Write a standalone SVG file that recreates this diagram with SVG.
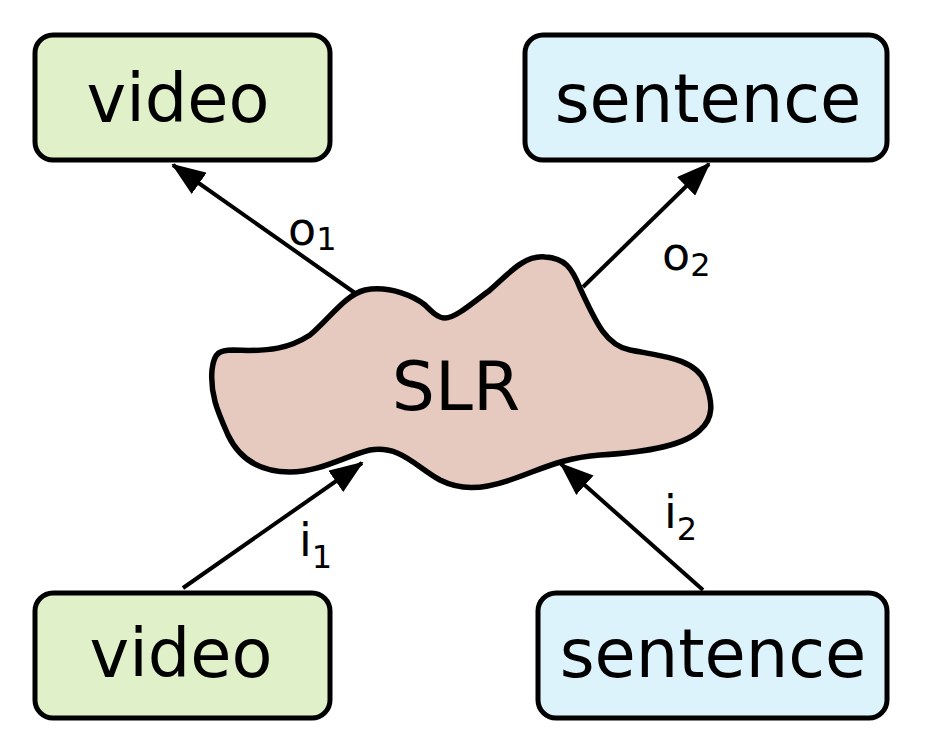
<svg xmlns="http://www.w3.org/2000/svg" width="926" height="750" viewBox="0 0 926 750">
<style>
.box{stroke:#000;stroke-width:5}
.green{fill:#e0f1c9}
.blue{fill:#dcf3fc}
.t{font-family:"DejaVu Sans",sans-serif;fill:#000}
.big{font-size:67px}
.lab{font-size:46px}
.sub{font-size:32px}
.edge{stroke:#000;stroke-width:4;fill:none;marker-end:url(#ah)}
</style>
<defs>
<marker id="ah" viewBox="0 0 34 26" refX="32" refY="13" markerWidth="34" markerHeight="26" markerUnits="userSpaceOnUse" orient="auto">
<path d="M0,0 L34,13 L0,26 Z" fill="#000"/>
</marker>
</defs>
<g id="connectors">
<line class="edge" x1="355" y1="293" x2="173" y2="165"/>
<line class="edge" x1="583" y1="287" x2="709" y2="164"/>
<line class="edge" x1="183" y1="588" x2="362" y2="463"/>
<line class="edge" x1="703" y1="590" x2="561" y2="464"/>
<text class="t lab" x="288" y="245">o<tspan class="sub" dy="5">1</tspan></text>
<text class="t lab" x="662" y="270">o<tspan class="sub" dy="6">2</tspan></text>
<text class="t lab" x="299" y="556">i<tspan class="sub" dy="12">1</tspan></text>
<text class="t lab" x="664" y="528">i<tspan class="sub" dy="12">2</tspan></text>
</g>
<g id="video_out">
<rect class="box green" x="35" y="35" width="295" height="125" rx="18"/>
<text class="t big" x="178" y="122" text-anchor="middle">video</text>
</g>
<g id="sentence_out">
<rect class="box blue" x="525" y="35" width="362" height="125" rx="18"/>
<text class="t big" x="708" y="122" text-anchor="middle">sentence</text>
</g>
<g id="video_in">
<rect class="box green" x="35" y="593" width="295" height="125" rx="18"/>
<text class="t big" x="181" y="677" text-anchor="middle">video</text>
</g>
<g id="sentence_in">
<rect class="box blue" x="538" y="593" width="349" height="125" rx="18"/>
<text class="t big" x="713" y="677" text-anchor="middle">sentence</text>
</g>
<g id="slr">
<path d="M233,350 C270,352 290,348 310,335 C330,318 345,295 365,290 C390,285 415,297 425,305 C432,312 438,318 445,318 C455,318 470,305 490,290 C510,272 525,255 545,257 C565,258 572,268 580,288 C595,320 605,345 630,350 C660,356 695,358 705,382 C713,402 714,418 700,430 C685,445 650,452 600,455 C560,458 540,470 510,480 C480,490 460,490 440,480 C415,466 400,445 370,450 C345,456 320,472 290,472 C260,472 240,460 228,435 C218,412 210,395 212,370 C214,352 220,350 233,350 Z" fill="#e7cabf" stroke="#000" stroke-width="5.5"/>
<text class="t" font-size="68" x="456" y="410" text-anchor="middle">SLR</text>
</g>
</svg>
